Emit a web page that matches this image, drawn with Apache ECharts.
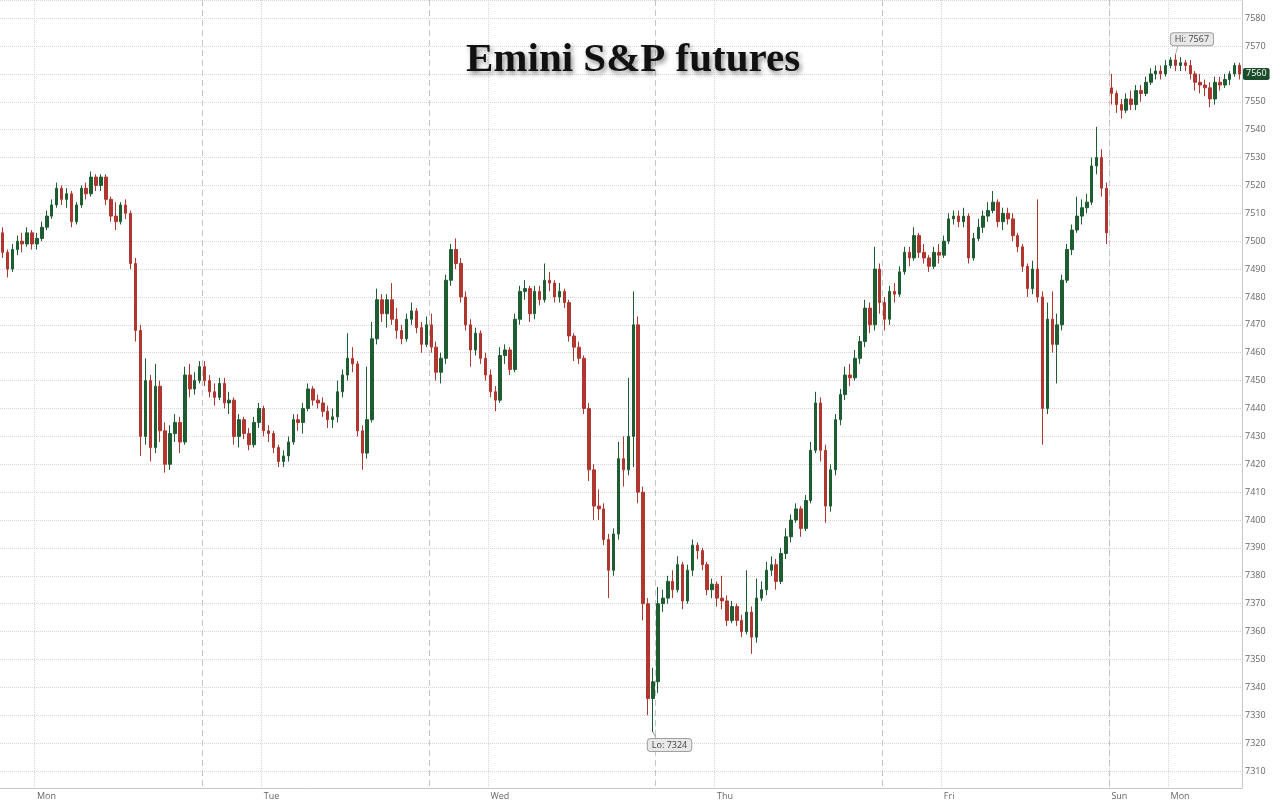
<!DOCTYPE html>
<html>
<head>
<meta charset="utf-8">
<title>Emini S&P futures</title>
<script src="https://cdn.jsdelivr.net/npm/echarts@6.0.0/dist/echarts.min.js"></script>
<style>
  html, body { margin: 0; padding: 0; background: #fff; }
  #chart { width: 1280px; height: 802px; }
</style>
</head>
<body>
<div id="chart"></div>
<script>
// 30 minute bars, [open, close, low, high]
var monBars = [
  [7503,7496,7494,7505],[7496,7490,7487,7497],[7490,7497,7489,7499],[7497,7500,7495,7502],
  [7500,7499,7496,7503],[7499,7503,7498,7505],[7503,7499,7497,7504],[7499,7501,7497,7503],
  [7501,7505,7500,7507],[7505,7509,7504,7511],[7509,7513,7508,7515],[7513,7519,7512,7521],
  [7519,7515,7513,7520],[7515,7517,7512,7519],[7517,7507,7505,7518],[7507,7513,7506,7514],
  [7513,7519,7512,7520],[7519,7517,7515,7521],[7517,7523,7516,7525],[7523,7520,7518,7524],
  [7520,7523,7518,7524],[7523,7515,7513,7524],[7515,7509,7507,7516],[7509,7507,7504,7514],
  [7507,7513,7506,7514],[7513,7510,7508,7515],[7510,7492,7490,7511],[7492,7468,7464,7494],
  [7468,7430,7423,7470],[7430,7450,7427,7458],[7450,7426,7421,7452],[7426,7448,7424,7456],
  [7448,7432,7428,7450],[7432,7420,7417,7435],[7420,7431,7418,7434],[7431,7435,7428,7438],
  [7435,7428,7424,7437],[7428,7452,7427,7455],[7452,7447,7444,7456],[7447,7450,7445,7453],
  [7450,7455,7449,7457]
];
var tueBars = [
  [7455,7450,7448,7457],[7450,7446,7444,7452],[7446,7444,7441,7449],[7444,7449,7443,7451],
  [7449,7442,7440,7451],[7442,7443,7438,7446],[7443,7430,7427,7444],[7430,7436,7426,7438],
  [7436,7431,7429,7437],[7431,7427,7425,7433],[7427,7435,7426,7437],[7435,7440,7433,7442],
  [7440,7432,7430,7441],[7432,7431,7428,7434],[7431,7426,7424,7432],[7426,7421,7419,7427],
  [7421,7423,7419,7425],[7423,7428,7421,7430],[7428,7436,7427,7438],[7436,7435,7432,7438],
  [7435,7440,7431,7442],[7440,7447,7439,7449],[7447,7443,7441,7448],[7443,7442,7440,7445],
  [7442,7439,7437,7444],[7439,7436,7433,7441],[7436,7437,7433,7440],[7437,7446,7435,7450],
  [7446,7452,7444,7454],[7452,7458,7450,7467],[7458,7456,7453,7462],[7456,7432,7430,7457],
  [7432,7424,7418,7434],[7424,7436,7422,7455],[7436,7465,7435,7471],[7465,7479,7463,7483],
  [7479,7474,7471,7481],[7474,7479,7469,7481],[7479,7472,7470,7485],[7472,7468,7465,7476],
  [7468,7465,7463,7470],[7465,7472,7464,7474],[7472,7475,7470,7478],[7475,7469,7467,7476],
  [7469,7463,7460,7471],[7463,7470,7462,7473]
];
var wedBars = [
  [7470,7462,7460,7474],[7462,7453,7450,7464],[7453,7458,7449,7460],[7458,7486,7456,7488],
  [7486,7497,7484,7499],[7497,7492,7490,7501],[7492,7480,7478,7494],[7480,7470,7468,7482],
  [7470,7461,7455,7472],[7461,7467,7459,7469],[7467,7458,7456,7468],[7458,7452,7450,7460],
  [7452,7446,7444,7454],[7446,7443,7439,7448],[7443,7459,7442,7462],[7459,7461,7456,7463],
  [7461,7454,7452,7462],[7454,7472,7453,7474],[7472,7482,7470,7484],[7482,7483,7479,7486],
  [7483,7474,7471,7484],[7474,7482,7472,7484],[7482,7479,7477,7484],[7479,7486,7478,7492],
  [7486,7485,7482,7489],[7485,7480,7478,7486],[7480,7482,7478,7485],[7482,7478,7476,7483],
  [7478,7466,7464,7479],[7466,7462,7457,7467],[7462,7458,7456,7464],[7458,7440,7438,7459],
  [7440,7418,7414,7442],[7418,7405,7400,7420],[7405,7404,7400,7411],[7404,7393,7391,7406],
  [7393,7382,7372,7395],[7382,7395,7380,7397],[7395,7422,7393,7428],[7422,7418,7412,7430],
  [7418,7430,7416,7451],[7430,7470,7419,7482],[7470,7410,7406,7473],[7410,7370,7364,7412],
  [7370,7336,7330,7372],[7336,7342,7324,7347]
];
var thuBars = [
  [7342,7370,7338,7376],[7370,7372,7367,7375],[7372,7378,7370,7380],[7378,7375,7372,7382],
  [7375,7384,7374,7387],[7384,7371,7368,7385],[7371,7382,7370,7384],[7382,7391,7380,7393],
  [7391,7389,7386,7392],[7389,7384,7382,7390],[7384,7375,7373,7385],[7375,7377,7372,7379],
  [7377,7372,7369,7378],[7372,7371,7368,7380],[7371,7364,7362,7373],[7364,7369,7363,7371],
  [7369,7364,7362,7370],[7364,7360,7358,7366],[7360,7367,7359,7382],[7367,7358,7352,7369],
  [7358,7372,7356,7379],[7372,7375,7371,7378],[7375,7382,7373,7385],[7382,7384,7380,7387],
  [7384,7378,7375,7386],[7378,7388,7377,7390],[7388,7394,7386,7397],[7394,7400,7392,7402],
  [7400,7404,7399,7406],[7404,7397,7394,7405],[7397,7407,7396,7409],[7407,7425,7406,7428],
  [7425,7442,7424,7446],[7442,7425,7421,7444],[7425,7405,7399,7427],[7405,7418,7403,7420],
  [7418,7436,7416,7438],[7436,7445,7434,7447],[7445,7452,7443,7455],[7452,7451,7448,7456],
  [7451,7458,7450,7461],[7458,7464,7456,7466],[7464,7476,7462,7479],[7476,7470,7467,7478],
  [7470,7490,7468,7498],[7490,7478,7474,7492]
];
var friBars = [
  [7478,7472,7468,7480],[7472,7482,7470,7484],[7482,7481,7478,7485],[7481,7489,7480,7491],
  [7489,7496,7488,7498],[7496,7494,7491,7498],[7494,7502,7493,7505],[7502,7496,7494,7503],
  [7496,7494,7492,7499],[7494,7491,7489,7495],[7491,7496,7490,7498],[7496,7495,7492,7499],
  [7495,7500,7494,7502],[7500,7508,7499,7510],[7508,7509,7506,7511],[7509,7507,7505,7511],
  [7507,7509,7505,7512],[7509,7494,7492,7510],[7494,7501,7493,7503],[7501,7505,7500,7508],
  [7505,7509,7503,7511],[7509,7511,7507,7514],[7511,7514,7510,7518],[7514,7507,7505,7515],
  [7507,7510,7504,7512],[7510,7508,7506,7512],[7508,7502,7500,7510],[7502,7498,7496,7503],
  [7498,7491,7489,7499],[7491,7483,7480,7492],[7483,7490,7481,7493],[7490,7480,7478,7515],
  [7480,7440,7427,7482],[7440,7472,7438,7478],[7472,7463,7460,7482],[7463,7470,7449,7474],
  [7470,7486,7468,7488],[7486,7497,7485,7499],[7497,7504,7495,7506],[7504,7509,7503,7516],
  [7509,7512,7506,7515],[7512,7514,7510,7517],[7514,7527,7513,7530],[7527,7530,7524,7541],
  [7530,7519,7516,7533],[7519,7503,7499,7521]
];
var sunBars = [
  [7555,7553,7549,7560],[7553,7549,7546,7554],[7549,7547,7544,7551],[7547,7551,7546,7553],
  [7551,7549,7547,7554],[7549,7554,7547,7556],[7554,7553,7550,7556],[7553,7557,7552,7559],
  [7557,7560,7556,7562],[7560,7561,7558,7563],[7561,7560,7558,7563],[7560,7563,7559,7565],
  [7563,7565,7562,7566],[7565,7563,7561,7567],[7563,7564,7561,7566],[7564,7563,7561,7565],
  [7563,7560,7558,7565],[7560,7557,7554,7561],[7557,7556,7553,7560],[7556,7555,7552,7558],
  [7555,7551,7548,7557],[7551,7557,7549,7559],[7557,7556,7554,7559],[7556,7558,7555,7560],
  [7558,7560,7556,7561],[7560,7563,7559,7564],[7563,7560,7558,7564]
];

var sessionStarts = ['Sun 20:30', 'Mon 18:00', 'Tue 18:00', 'Wed 18:00', 'Thu 18:00', 'Sun 18:00'];
var sessions = [monBars, tueBars, wedBars, thuBars, friBars, sunBars];

var dayLabels = ['Mon', 'Tue', 'Wed', 'Thu', 'Fri', 'Sun', 'Mon'];
var dayLabelBars = [7, 53, 99, 145, 191, 225, 237];
var sessionBreakBars = [41, 87, 133, 179, 225];

var yMin = 7303.9;
var yMax = 7586.5;

// category labels: half hour stamps per session
var dayNames = ['Sun', 'Mon', 'Tue', 'Wed', 'Thu', 'Fri', 'Sat'];
var times = [];
var bars = [];
sessions.forEach(function (s, k) {
  var parts = sessionStarts[k].split(' ');
  var d = dayNames.indexOf(parts[0]);
  var hm = parts[1].split(':');
  var mins = (+hm[0]) * 60 + (+hm[1]);
  s.forEach(function (b) {
    var hh = Math.floor(mins / 60) % 24, mm = mins % 60;
    times.push(dayNames[(d + Math.floor(mins / 1440)) % 7] + ' ' + (hh < 10 ? '0' : '') + hh + ':' + (mm < 10 ? '0' : '') + mm);
    bars.push(b);
    mins += 30;
  });
});
var lastClose = sunBars[sunBars.length - 1][1];

var chart = echarts.init(document.getElementById('chart'));
chart.setOption({
  animation: false,
  backgroundColor: '#ffffff',
  title: {
    text: 'Emini S&P futures',
    left: 466,
    top: 40,
    padding: 0,
    textStyle: {
      fontFamily: 'Liberation Serif',
      fontWeight: 'bold',
      fontSize: 41,
      color: '#111',
      textShadowColor: 'rgba(0,0,0,0.45)',
      textShadowBlur: 5,
      textShadowOffsetX: 2,
      textShadowOffsetY: 3
    }
  },
  grid: { left: 0, right: 38, top: 0, bottom: 14 },
  xAxis: [
    {
      type: 'category',
      data: times,
      boundaryGap: true,
      axisLine: { lineStyle: { color: '#c8c8c8' } },
      axisTick: { show: false },
      axisLabel: {
        interval: function (i) { return dayLabelBars.indexOf(i) >= 0; },
        formatter: function (v, i) { var k = dayLabelBars.indexOf(i); return k >= 0 ? dayLabels[k] : ''; },
        align: 'left',
        color: '#666',
        fontFamily: 'Open Sans',
        fontSize: 9,
        margin: 4
      },
      splitLine: {
        show: true,
        interval: function (i) { return dayLabelBars.indexOf(i) >= 0; },
        lineStyle: { color: '#d6d6d6', type: 'dotted', width: 1 }
      }
    },
    {
      type: 'category',
      data: times,
      boundaryGap: true,
      position: 'bottom',
      axisLine: { show: false },
      axisTick: { show: false },
      axisLabel: { show: false },
      splitLine: {
        show: true,
        interval: function (i) { return sessionBreakBars.indexOf(i) >= 0; },
        lineStyle: { color: '#c4c4c4', type: [6, 4], width: 1 }
      }
    }
  ],
  yAxis: {
    type: 'value',
    position: 'right',
    min: yMin,
    max: yMax,
    splitNumber: 28,
    minInterval: 10,
    maxInterval: 10,
    axisLine: { show: true, lineStyle: { color: '#c8c8c8' } },
    axisTick: { show: false },
    axisLabel: {
      showMinLabel: false,
      showMaxLabel: false,
      formatter: function (v) { return Math.round(v) % 10 === 0 && Math.abs(v - Math.round(v)) < 1e-6 ? String(v) : ''; },
      color: '#666',
      fontFamily: 'Open Sans',
      fontSize: 9,
      margin: 3
    },
    splitLine: { lineStyle: { color: '#d6d6d6', type: 'dotted', width: 1 } }
  },
  series: [{
    type: 'candlestick',
    xAxisIndex: 0,
    data: bars,
    barWidth: 3,
    itemStyle: {
      color: '#1e5c32',
      color0: '#b0372f',
      borderColor: '#1e5c32',
      borderColor0: '#b0372f',
      borderWidth: 1
    },
    markPoint: {
      animation: false,
      data: [
        {
          type: 'max', valueDim: 'highest', name: 'Hi',
          symbol: 'path://M0,10L3,0', symbolSize: [3, 10], symbolOffset: [1.5, -5],
          label: { formatter: function (p) { return 'Hi: ' + p.value; }, offset: [15, -10] }
        },
        {
          type: 'min', valueDim: 'lowest', name: 'Lo',
          symbol: 'path://M0,0L3,6', symbolSize: [3, 6], symbolOffset: [1.5, 3],
          label: { formatter: function (p) { return 'Lo: ' + p.value; }, offset: [15, 10] }
        }
      ],
      itemStyle: { color: 'none', borderColor: '#999', borderWidth: 1 },
      label: {
        show: true,
        position: 'inside',
        color: '#444',
        fontFamily: 'Open Sans',
        fontSize: 9,
        backgroundColor: '#e8e8e8',
        borderColor: '#a0a0a0',
        borderWidth: 1,
        borderRadius: 3,
        padding: [2, 4, 1, 4]
      }
    },
    markLine: {
      silent: true,
      symbol: 'none',
      animation: false,
      data: [{ yAxis: lastClose }],
      lineStyle: { color: 'rgba(0,0,0,0)', width: 0 },
      label: {
        show: true,
        position: 'end',
        distance: 1,
        formatter: function (p) { return String(p.value); },
        color: '#fff',
        fontFamily: 'Open Sans',
        fontSize: 9,
        backgroundColor: '#1b4d2c',
        borderRadius: 2,
        padding: [2, 3, 1, 3]
      }
    }
  }]
});
</script>
</body>
</html>
